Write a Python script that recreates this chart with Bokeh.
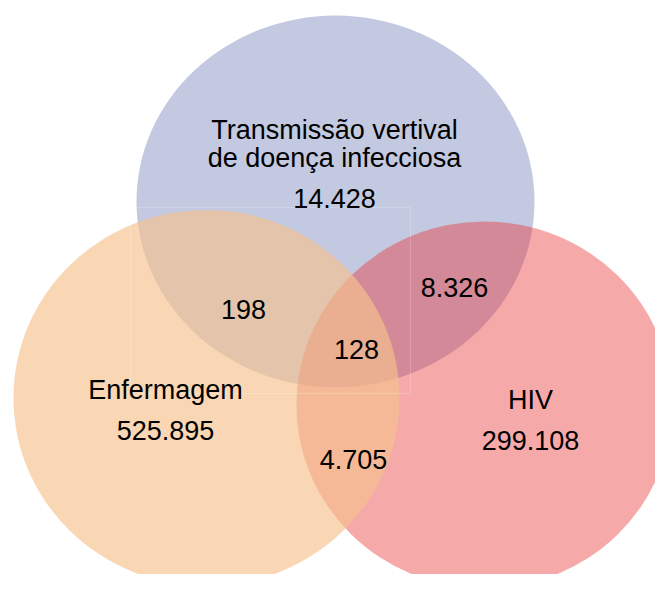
from bokeh.plotting import figure
from bokeh.models import Range1d, ColumnDataSource
from bokeh.core.properties import value
from bokeh.embed import file_html
from bokeh.resources import INLINE

# ---- data ----
set_names = ["Transmissão vertival\nde doença infecciosa", "Enfermagem", "HIV"]
set_only_counts = ["14.428", "525.895", "299.108"]
pair_labels = ["Transmissão∩Enfermagem", "Transmissão∩HIV", "Enfermagem∩HIV"]
pair_counts = ["198", "8.326", "4.705"]
all_three_count = ["128"]

# ---- layout (pixel coordinates) ----
W, H = 655, 574
p = figure(width=W, height=H, output_backend="svg", toolbar_location=None,
           x_range=Range1d(0, W), y_range=Range1d(H, 0),
           min_border=0, outline_line_color=None)
p.axis.visible = False
p.grid.visible = False
p.background_fill_color = "white"
p.border_fill_color = "white"

# circles: blue (bottom), red, orange (top) with transparency
p.ellipse(x=[335], y=[201], width=[398], height=[372],
          fill_color="#C3C9E0", fill_alpha=1.0, line_color=None)
p.ellipse(x=[484], y=[404.5], width=[376], height=[367],
          fill_color="#EA3232", fill_alpha=0.42, line_color=None)
p.ellipse(x=[206], y=[397.5], width=[386], height=[376],
          fill_color="#F6C18D", fill_alpha=0.65, line_color=None)

# faint artefact box
p.quad(left=[130], right=[410], top=[207], bottom=[393], fill_color=None,
       line_color="white", line_alpha=0.2, line_width=1)

font = value("Liberation Sans")
fs = "27px"

name_lines = set_names[0].split("\n")
texts = name_lines + [set_only_counts[0], set_names[1], set_only_counts[1],
                      set_names[2], set_only_counts[2]] + pair_counts + all_three_count
xs = [334, 334, 334, 165, 165, 530, 530, 243, 454, 353, 356]
ys = [129, 157, 198, 389, 430, 399, 440, 309, 287, 459, 349]

src = ColumnDataSource(dict(x=xs, y=ys, t=texts))
p.text(x="x", y="y", text="t", source=src, text_font=font, text_font_size=fs,
       text_align="center", text_baseline="middle", text_color="#000000")

open("out.html", "w").write(file_html(p, INLINE))
